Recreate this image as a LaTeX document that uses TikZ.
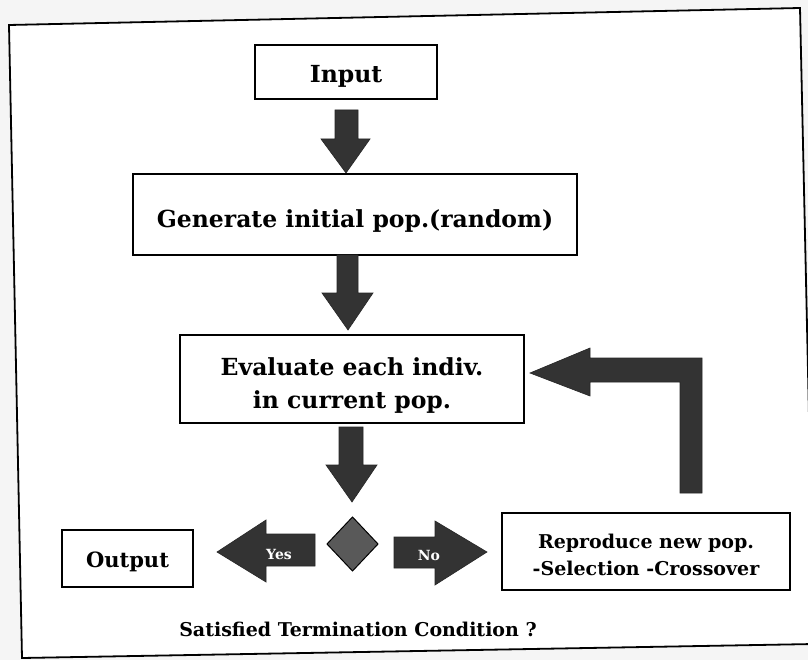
\documentclass[tikz,border=0pt]{standalone}
\usepackage{fontspec}
\setmainfont{DejaVu Serif}
\usetikzlibrary{calc}
\begin{document}
\begin{tikzpicture}[x=1pt,y=-1pt,
  box/.style={draw=black,line width=1.8pt,fill=white,inner sep=0pt,align=center,text=black,text depth=0pt},
  bigtxt/.style={font=\fontsize{23.5}{33}\selectfont\bfseries},
  blockarrow/.style={fill=black!80,draw=black!85,line width=0.6pt},
  arrowlabel/.style={text=white,font=\fontsize{14}{16}\selectfont\bfseries,inner sep=0pt}]
  % page area and paper tone
  \useasboundingbox (0,0) rectangle (808,660);
  \fill[black!4] (0,0) rectangle (808,660);
  \begin{scope}
    \clip (0,0) rectangle (808,660);
    \draw[line width=1.8pt,fill=white] (9,25) -- (800,8) -- (814,644) -- (22,658) -- cycle;
  \end{scope}

  % process boxes
  \node[box,bigtxt,minimum width=182,minimum height=54,text height=22] (in)  at (346,72) {Input};
  \node[box,bigtxt,minimum width=444,minimum height=81,text height=27] (gen) at (355,214.5) {Generate initial pop.(random)};
  \node[box,bigtxt,minimum width=344,minimum height=88,text height=58] (eva) at (352,379) {Evaluate each indiv.\\in current pop.};
  \node[box,font=\fontsize{21}{27}\selectfont\bfseries,minimum width=131,minimum height=57,text height=17] (out) at (127.5,558.5) {Output};
  \node[box,font=\fontsize{19}{27}\selectfont\bfseries,minimum width=288,minimum height=77,text height=47] (rep) at (646,551.5) {Reproduce new pop.\\-Selection -Crossover};

  % decision diamond
  \coordinate (dec) at (352.5,544);
  \draw[fill=black!65,line width=1pt] ($(dec)+(0,-27)$) -- ($(dec)+(25.5,0)$) -- ($(dec)+(0,27)$) -- ($(dec)+(-25.5,0)$) -- cycle;

  % downward block arrows
  \fill[blockarrow] (335,110) -- (358,110) -- (358,139) -- (370,139) -- (346,173) -- (321,139) -- (335,139) -- cycle;
  \fill[blockarrow] (337,255) -- (358,255) -- (358,293) -- (373,293) -- (348,330) -- (322,293) -- (337,293) -- cycle;
  \fill[blockarrow] (339,427) -- (363,427) -- (363,465) -- (377,465) -- (352,502) -- (326,465) -- (339,465) -- cycle;

  % Yes / No arrows
  \fill[blockarrow] (315,534) -- (266,534) -- (266,520) -- (217,552) -- (266,582) -- (266,566) -- (315,566) -- cycle;
  \node[arrowlabel] (yes) at (279,554) {Yes};
  \fill[blockarrow] (394,537) -- (435,537) -- (435,521) -- (487,552) -- (435,585) -- (435,568) -- (394,568) -- cycle;
  \node[arrowlabel] (no) at (429,555) {No};

  % loop back to evaluation
  \fill[blockarrow] (680,493) -- (702,493) -- (702,358) -- (590,358) -- (590,348) -- (530,373) -- (590,396) -- (590,382) -- (680,382) -- cycle;

  % caption of the decision
  \node[font=\fontsize{19}{22}\selectfont\bfseries,text=black,anchor=base,inner sep=0pt] (cond) at (358,636) {Satisfied Termination Condition ?};
\end{tikzpicture}
\end{document}
